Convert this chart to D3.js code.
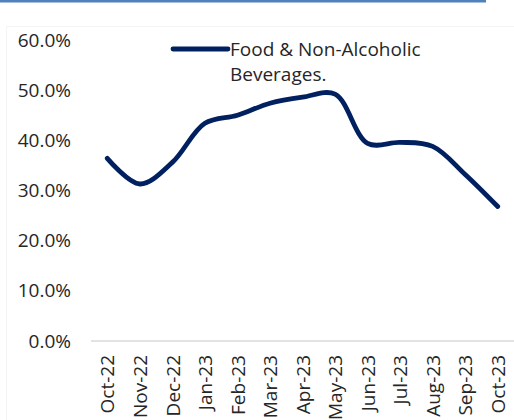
<!DOCTYPE html>
<html lang="en">
<head>
<meta charset="utf-8" />
<title>Food & Non-Alcoholic Beverages</title>
<script src="https://d3js.org/d3.v7.min.js"></script>
<style>
  body { margin: 0; background: #fff; }
  text { font-family: "Open Sans", sans-serif; fill: #262626; }
</style>
</head>
<body>
<div id="chart"></div>
<script>
// data
var months = ["Oct-22", "Nov-22", "Dec-22", "Jan-23", "Feb-23", "Mar-23", "Apr-23",
              "May-23", "Jun-23", "Jul-23", "Aug-23", "Sep-23", "Oct-23"];
var foodValues = [36.4, 31.3, 35.6, 43.4, 45.0, 47.4, 48.6, 49.2, 39.4, 39.6, 38.8, 33.2, 26.8];
var yTicks = [0, 10, 20, 30, 40, 50, 60];
var seriesName = ["Food & Non-Alcoholic", "Beverages."];

var W = 514, H = 420;
var margin = { top: 40, right: 0, bottom: 79, left: 91 };
var fontSize = "19px";

var svg = d3.select("#chart").append("svg")
    .attr("width", W)
    .attr("height", H);

// blue rule along the top and faint chart frame
svg.append("rect").attr("x", 0).attr("y", 0).attr("width", 486).attr("height", 2.5)
    .attr("fill", "#4f81bd");
svg.append("rect").attr("x", 6.5).attr("y", 26.5).attr("width", 520).attr("height", 420)
    .attr("fill", "none").attr("stroke", "#f4f4f4");

var x = d3.scalePoint()
    .domain(months)
    .range([margin.left, W - margin.right])
    .padding(0.5);

var y = d3.scaleLinear()
    .domain([0, 60])
    .range([H - margin.bottom, margin.top]);

// y axis labels (no line, no ticks)
var yAxis = svg.append("g")
    .attr("transform", "translate(" + 71 + ",0)")
    .call(d3.axisLeft(y).tickValues(yTicks).tickSize(0).tickPadding(0)
        .tickFormat(function (d) { return d.toFixed(1) + "%"; }));
yAxis.select(".domain").remove();
yAxis.selectAll("text").style("font-size", fontSize).attr("fill", "#262626");

// x axis
var xAxis = svg.append("g")
    .attr("transform", "translate(0," + y(0) + ")")
    .call(d3.axisBottom(x).tickSize(0).tickSizeOuter(0));
xAxis.select(".domain")
    .attr("d", "M" + margin.left + ",0H" + W)
    .attr("stroke", "#d9d9d9")
    .attr("stroke-width", 1.5);
xAxis.selectAll("text")
    .style("font-size", fontSize)
    .attr("fill", "#262626")
    .attr("text-anchor", "end")
    .attr("transform", "rotate(-90)")
    .attr("x", -14)
    .attr("y", 0)
    .attr("dy", "0.35em");

// series line
var line = d3.line()
    .x(function (d, i) { return x(months[i]); })
    .y(function (d) { return y(d); })
    .curve(d3.curveCatmullRom.alpha(0.5));

svg.append("path")
    .datum(foodValues)
    .attr("fill", "none")
    .attr("stroke", "#002060")
    .attr("stroke-width", 4.8)
    .attr("stroke-linecap", "round")
    .attr("stroke-linejoin", "round")
    .attr("d", line);

// legend
var legend = svg.append("g");
legend.append("line")
    .attr("x1", 173).attr("x2", 228)
    .attr("y1", 49).attr("y2", 49)
    .attr("stroke", "#002060")
    .attr("stroke-width", 4.8)
    .attr("stroke-linecap", "round");
legend.selectAll("text.lg")
    .data(seriesName)
    .enter().append("text")
    .attr("class", "lg")
    .attr("x", 230)
    .attr("y", function (d, i) { return 49 + i * 25; })
    .attr("dy", "0.35em")
    .style("font-size", fontSize)
    .text(function (d) { return d; });
</script>
</body>
</html>
